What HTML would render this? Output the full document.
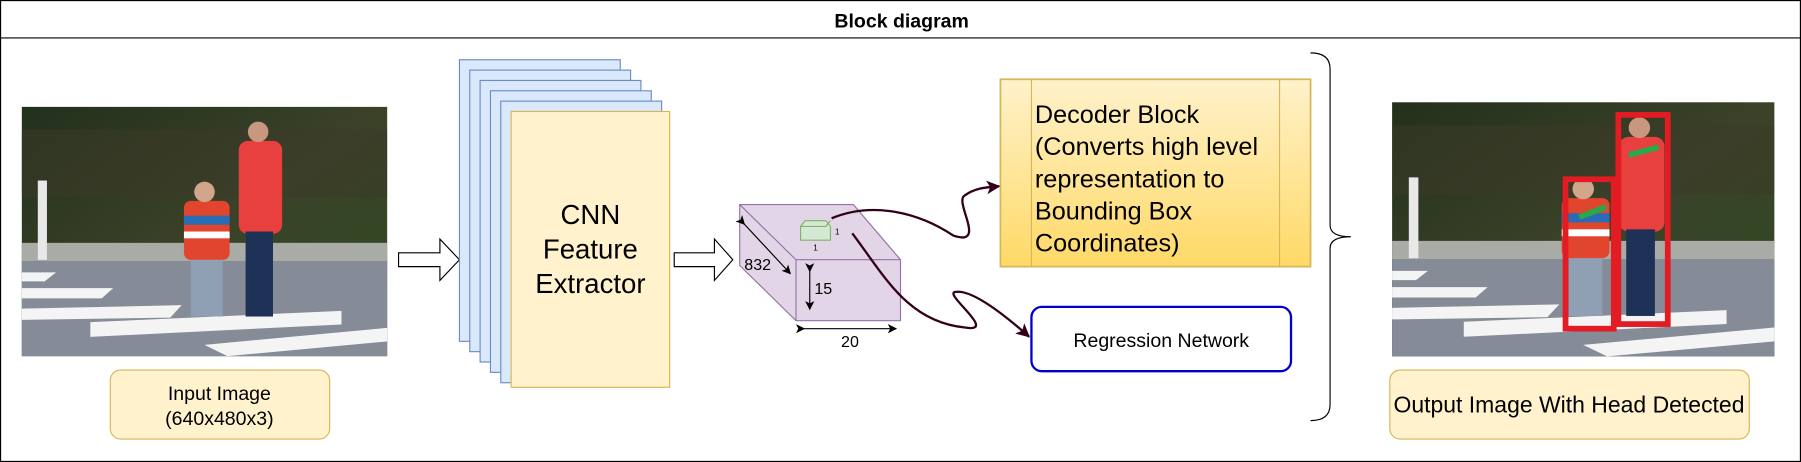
<!DOCTYPE html>
<html><head><meta charset="utf-8"><style>
html,body{margin:0;padding:0;background:#fff}
svg{display:block}
text{font-family:"Liberation Sans",Arial,sans-serif}
</style></head><body>
<svg width="1801" height="462" viewBox="0 0 1568 402" preserveAspectRatio="none" xmlns="http://www.w3.org/2000/svg">
<defs>
<linearGradient id="dec" x1="0" y1="0" x2="0" y2="1"><stop offset="0" stop-color="#fff2cc"/><stop offset="1" stop-color="#ffd966"/></linearGradient>
<linearGradient id="fol" x1="0" y1="0" x2="1" y2="1"><stop offset="0" stop-color="#22301c"/><stop offset="0.5" stop-color="#3b4228"/><stop offset="1" stop-color="#2d4a22"/></linearGradient>
<marker id="ah" markerWidth="8" markerHeight="8" refX="7" refY="4" orient="auto" markerUnits="userSpaceOnUse"><path d="M0,0 L8,4 L0,8 L2,4 z" fill="#000"/></marker>
<marker id="ahr" markerWidth="12" markerHeight="12" refX="11" refY="6" orient="auto" markerUnits="userSpaceOnUse"><path d="M0,0 L12,6 L0,12 L3,6 z" fill="#33001a"/></marker>
<g id="photo">
<rect x="0" y="0" width="320" height="220" fill="url(#fol)"/>
<rect x="0" y="20" width="320" height="60" fill="#3c3a28" opacity="0.5"/>
<rect x="0" y="120" width="320" height="16" fill="#a9aba6"/>
<rect x="0" y="136" width="320" height="84" fill="#858c98"/>
<polygon points="0,146 30,146 20,154 0,154" fill="#f4f4f4"/>
<polygon points="0,160 80,160 70,169 0,169" fill="#f4f4f4"/>
<polygon points="0,178 140,175 130,186 0,188" fill="#f4f4f4"/>
<polygon points="60,190 280,180 280,192 60,203" fill="#f4f4f4"/>
<polygon points="160,210 320,195 320,207 180,220" fill="#f4f4f4"/>
<rect x="14" y="65" width="8" height="70" fill="#e8e8e8"/>
<rect x="190" y="30" width="38" height="82" rx="8" fill="#e8403e"/>
<circle cx="207" cy="22" r="9" fill="#c9977d"/>
<rect x="196" y="110" width="24" height="75" fill="#1e3157"/>
<rect x="142" y="83" width="40" height="52" rx="6" fill="#e2452e"/>
<rect x="142" y="96" width="40" height="8" fill="#2a6bb5"/>
<rect x="142" y="110" width="40" height="6" fill="#fff"/>
<circle cx="160" cy="75" r="9" fill="#d2a68a"/>
<rect x="148" y="135" width="28" height="50" fill="#8fa0b5"/>
</g>
</defs>
<rect x="0.5" y="0.5" width="1567" height="401" fill="#fff" stroke="#000"/>
<line x1="0" y1="33" x2="1568" y2="33" stroke="#000"/>
<text x="785" y="24" font-size="17" font-weight="bold" text-anchor="middle">Block diagram</text>

<g transform="translate(19,93) scale(0.994,0.986)"><use href="#photo"/></g>
<rect x="96" y="322" width="191" height="60" rx="9" fill="#fff2cc" stroke="#d6b656"/>
<text x="191" y="348" font-size="17" text-anchor="middle">Input Image</text>
<text x="191" y="370" font-size="17" text-anchor="middle">(640x480x3)</text>

<path d="M347,220 L383,220 L383,208 L400,226 L383,244 L383,232 L347,232 Z" fill="#fff" stroke="#000"/>
<g fill="#dae8fc" stroke="#6c8ebf">
<rect x="400" y="52" width="140" height="245"/>
<rect x="409" y="61" width="140" height="245"/>
<rect x="418" y="70" width="140" height="245"/>
<rect x="427" y="79" width="140" height="245"/>
<rect x="436" y="88" width="140" height="245"/>
</g>
<rect x="445" y="97" width="138" height="240" fill="#fff2cc" stroke="#d6b656"/>
<g font-size="24" text-anchor="middle"><text x="514" y="195">CNN</text><text x="514" y="225">Feature</text><text x="514" y="255">Extractor</text></g>

<path d="M587,220 L622,220 L622,208 L638,226 L622,244 L622,232 L587,232 Z" fill="#fff" stroke="#000"/>

<polygon points="644,178 743,178 784,226 784,279 693,279 644,231" fill="#e1d5e7" stroke="#9673a6"/>
<polyline points="644,178 693,226 784,226" fill="none" stroke="#9673a6"/>
<line x1="693" y1="226" x2="693" y2="279" stroke="#9673a6"/>
<polygon points="697,197 701,192 719,192 723,197 723,209 697,209" fill="#d5e8d4" stroke="#82b366"/>
<polyline points="697,197 719,197 723,192" fill="none" stroke="#82b366"/>
<text x="727" y="204" font-size="7">1</text>
<text x="708" y="218" font-size="7">1</text>
<line x1="648" y1="195" x2="688" y2="238" stroke="#000" marker-end="url(#ah)" marker-start="url(#ah)"/>
<line x1="705" y1="236" x2="705" y2="269" stroke="#000" marker-end="url(#ah)" marker-start="url(#ah)"/>
<line x1="700" y1="286" x2="780" y2="286" stroke="#000" marker-end="url(#ah)" marker-start="url(#ah)"/>
<text x="648" y="235" font-size="14">832</text>
<text x="709" y="256" font-size="14">15</text>
<text x="740" y="302" font-size="14" text-anchor="middle">20</text>

<path d="M724,190 C760,175 800,185 830,205 C860,215 830,175 840,170 C850,163 860,163 870,162" fill="none" stroke="#33001a" stroke-width="2" marker-end="url(#ahr)"/>
<path d="M742,203 C770,240 790,280 840,285 C870,290 820,255 832,254 C845,252 870,270 896,293" fill="none" stroke="#33001a" stroke-width="2" marker-end="url(#ahr)"/>

<rect x="871" y="69" width="270" height="163" fill="url(#dec)" stroke="#d6b656" stroke-width="1.5"/>
<line x1="898" y1="69" x2="898" y2="232" stroke="#d6b656"/>
<line x1="1114" y1="69" x2="1114" y2="232" stroke="#d6b656"/>
<g font-size="22"><text x="901" y="107">Decoder Block</text><text x="901" y="135">(Converts high level</text><text x="901" y="163">representation to</text><text x="901" y="191">Bounding Box</text><text x="901" y="219">Coordinates)</text></g>

<rect x="898" y="267" width="226" height="56" rx="9" fill="#fff" stroke="#0000cc" stroke-width="2"/>
<text x="1011" y="302" font-size="17" text-anchor="middle">Regression Network</text>

<path d="M1141,46 Q1158,46 1158,60 L1158,196 Q1158,206 1176,206 Q1158,206 1158,216 L1158,352 Q1158,366 1141,366" fill="none" stroke="#000"/>

<g transform="translate(1212,89) scale(1.04,1.005)"><use href="#photo"/></g>
<rect x="1409" y="100" width="43" height="182" fill="none" stroke="#e31c24" stroke-width="5"/>
<rect x="1363" y="156" width="42" height="130" fill="none" stroke="#e31c24" stroke-width="5"/>
<line x1="1418" y1="135" x2="1444" y2="128" stroke="#2aa84a" stroke-width="5"/>
<line x1="1375" y1="189" x2="1398" y2="180" stroke="#2aa84a" stroke-width="5"/>
<rect x="1210" y="322" width="313" height="60" rx="9" fill="#fff2cc" stroke="#d6b656"/>
<text x="1366" y="359" font-size="20" text-anchor="middle">Output Image With Head Detected</text>
</svg>
</body></html>
